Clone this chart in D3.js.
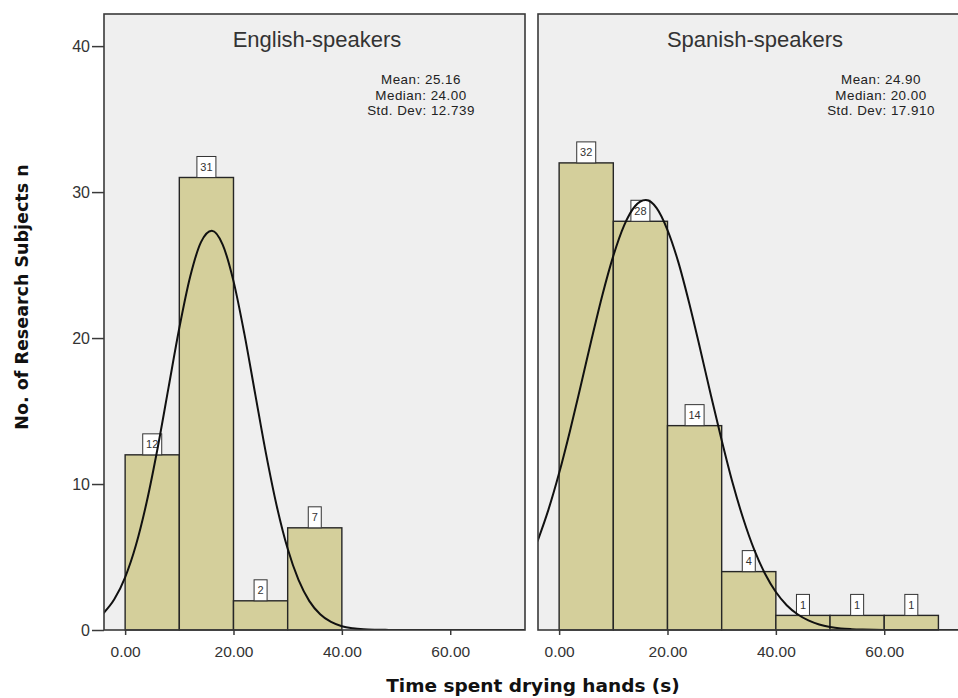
<!DOCTYPE html>
<html>
<head>
<meta charset="utf-8">
<script src="https://cdn.jsdelivr.net/npm/d3@7"></script>
<style>
  html, body { margin: 0; padding: 0; background: #ffffff; }
  svg { display: block; }
</style>
</head>
<body>
<svg id="chart" width="958" height="698"></svg>
<script>
// ---------------- DATA ----------------
const binStarts = [0, 10, 20, 30, 40, 50, 60];
const binWidth = 10;
const englishCounts = [12, 31, 2, 7];
const spanishCounts = [32, 28, 14, 4, 1, 1, 1];

const panelTitles = ["English-speakers", "Spanish-speakers"];
const englishStats = ["Mean: 25.16", "Median: 24.00", "Std. Dev: 12.739"];
const spanishStats = ["Mean: 24.90", "Median: 20.00", "Std. Dev: 17.910"];

const xTickValues = [0, 20, 40, 60];
const xTickLabels = ["0.00", "20.00", "40.00", "60.00"];
const yTickValues = [0, 10, 20, 30, 40];
const yTickLabels = ["0", "10", "20", "30", "40"];

const xAxisTitle = "Time spent drying hands (s)";
const yAxisTitle = "No. of Research Subjects n";

// fitted curves (x in seconds, y in subjects)
const curveX = [-4, -2, 0, 2, 4, 6, 8, 10, 12, 14, 16, 18, 20, 22, 24, 26, 28, 30, 32, 34, 36, 38,
                40, 42, 44, 46, 48, 50, 52, 54, 56, 58, 60, 62, 64, 66, 68, 70, 72, 74];
const englishCurveY = [1.15, 2.10, 3.61, 5.82, 8.80, 12.47, 16.59, 20.69, 24.2, 26.57, 27.35, 26.4,
                       23.9, 20.3, 16.18, 12.08, 8.46, 5.56, 3.43, 1.98, 1.08, 0.55,
                       0.26, 0.12, 0.05, 0.02, 0.01, 0, 0, 0, 0, 0, 0, 0, 0, 0, 0, 0, 0, 0];
const spanishCurveY = [6.07, 8.21, 10.75, 13.64, 16.75, 19.93, 22.97, 25.63, 27.72, 29.03, 29.45, 28.9,
                       27.4, 25.2, 22.4, 19.3, 16.1, 13.0, 10.1, 7.6, 5.5, 3.85,
                       2.6, 1.7, 1.08, 0.66, 0.38, 0.21, 0.11, 0.06, 0.03, 0.01, 0, 0, 0, 0, 0, 0, 0, 0];

// ---------------- LAYOUT ----------------
const svg = d3.select("#chart");
const panelTop = 14, panelBottom = 630, panelW = 421;
const panelLefts = [104, 538];

const x = d3.scaleLinear().domain([-3.9, 73.8]).range([0, panelW]);
const y = d3.scaleLinear().domain([0, 42.2]).range([panelBottom, panelTop]);

const barFill = "#d4cf9b";
const frameColor = "#3a3a3a";
const textColor = "#333333";

const panels = [
  {counts: englishCounts, stats: englishStats, curve: englishCurveY, title: panelTitles[0],
   titleX: 317, statsX: 421},
  {counts: spanishCounts, stats: spanishStats, curve: spanishCurveY, title: panelTitles[1],
   titleX: 755, statsX: 881}
];

const defs = svg.append("defs");

panels.forEach((p, i) => {
  const left = panelLefts[i];
  const g = svg.append("g").attr("transform", `translate(${left},0)`);

  defs.append("clipPath").attr("id", "clip" + i)
    .append("rect").attr("x", 0).attr("y", panelTop).attr("width", panelW).attr("height", panelBottom - panelTop);

  // background
  g.append("rect")
    .attr("x", 0).attr("y", panelTop)
    .attr("width", panelW).attr("height", panelBottom - panelTop)
    .attr("fill", "#efefef");

  // bars
  const bars = p.counts.map((c, k) => ({x0: binStarts[k], x1: binStarts[k] + binWidth, n: c}));
  g.append("g").selectAll("rect").data(bars).join("rect")
    .attr("x", d => x(d.x0))
    .attr("y", d => y(d.n))
    .attr("width", d => x(d.x1) - x(d.x0))
    .attr("height", d => y(0) - y(d.n))
    .attr("fill", barFill)
    .attr("stroke", "#262626")
    .attr("stroke-width", 1.4);

  // count labels
  const lab = g.append("g").selectAll("g").data(bars).join("g")
    .attr("transform", d => `translate(${x((d.x0 + d.x1) / 2)},${y(d.n)})`);
  lab.append("rect")
    .attr("x", d => String(d.n).length > 1 ? -9.5 : -6.5)
    .attr("y", -21)
    .attr("width", d => String(d.n).length > 1 ? 19 : 13)
    .attr("height", 21)
    .attr("fill", "#ffffff")
    .attr("stroke", "#333")
    .attr("stroke-width", 1);
  lab.append("text")
    .attr("x", 0).attr("y", -6.5)
    .attr("text-anchor", "middle")
    .attr("font-family", "Liberation Sans, Arial, sans-serif")
    .attr("font-size", 11)
    .attr("fill", "#333")
    .text(d => d.n);

  // fitted curve
  const line = d3.line()
    .x((d, k) => x(curveX[k]))
    .y(d => y(d))
    .curve(d3.curveMonotoneX);
  g.append("path")
    .datum(p.curve)
    .attr("clip-path", `url(#clip${i})`)
    .attr("d", line)
    .attr("fill", "none")
    .attr("stroke", "#111")
    .attr("stroke-width", 2);

  // frame
  g.append("rect")
    .attr("x", 0).attr("y", panelTop)
    .attr("width", panelW).attr("height", panelBottom - panelTop)
    .attr("fill", "none")
    .attr("stroke", frameColor)
    .attr("stroke-width", 1.6);

  // panel title
  g.append("text")
    .attr("x", p.titleX - left).attr("y", 46.5)
    .attr("text-anchor", "middle")
    .attr("font-family", "Liberation Sans, Arial, sans-serif")
    .attr("font-size", 22)
    .attr("fill", textColor)
    .text(p.title);

  // stats
  const baselines = [84, 99.5, 115];
  g.append("g").selectAll("text").data(p.stats).join("text")
    .attr("x", p.statsX - left)
    .attr("y", (d, k) => baselines[k])
    .attr("text-anchor", "middle")
    .attr("font-family", "Liberation Sans, Arial, sans-serif")
    .attr("font-size", 13.4)
    .attr("letter-spacing", 0.5)
    .attr("fill", "#222")
    .text(d => d);

  // x axis
  const xAxis = d3.axisBottom(x)
    .tickValues(xTickValues)
    .tickFormat((d, k) => xTickLabels[k])
    .tickSize(5)
    .tickSizeOuter(0)
    .tickPadding(11);
  const xg = g.append("g").attr("transform", `translate(0,${panelBottom})`).call(xAxis);
  xg.select(".domain").remove();
  xg.selectAll(".tick line").attr("stroke", frameColor).attr("stroke-width", 1.5);
  xg.selectAll(".tick text")
    .attr("font-family", "Liberation Sans, Arial, sans-serif")
    .attr("font-size", 15.5)
    .attr("fill", textColor);

  // y axis only on the first panel
  if (i === 0) {
    const yAxis = d3.axisLeft(y)
      .tickValues(yTickValues)
      .tickFormat((d, k) => yTickLabels[k])
      .tickSize(12)
      .tickSizeOuter(0)
      .tickPadding(2);
    const yg = g.append("g").call(yAxis);
    yg.select(".domain").remove();
    yg.selectAll(".tick line").attr("stroke", frameColor).attr("stroke-width", 1.5);
    yg.selectAll(".tick text")
      .attr("font-family", "Liberation Sans, Arial, sans-serif")
      .attr("font-size", 16)
      .attr("fill", textColor);
  }
});

// axis titles
svg.append("text")
  .attr("x", 533).attr("y", 692)
  .attr("text-anchor", "middle")
  .attr("font-family", "DejaVu Sans, Verdana, sans-serif")
  .attr("font-weight", "bold")
  .attr("font-size", 18.5)
  .attr("fill", "#111")
  .text(xAxisTitle);

svg.append("text")
  .attr("transform", "translate(28,297) rotate(-90)")
  .attr("text-anchor", "middle")
  .attr("font-family", "DejaVu Sans, Verdana, sans-serif")
  .attr("font-weight", "bold")
  .attr("font-size", 17.5)
  .attr("fill", "#111")
  .text(yAxisTitle);
</script>
</body>
</html>
